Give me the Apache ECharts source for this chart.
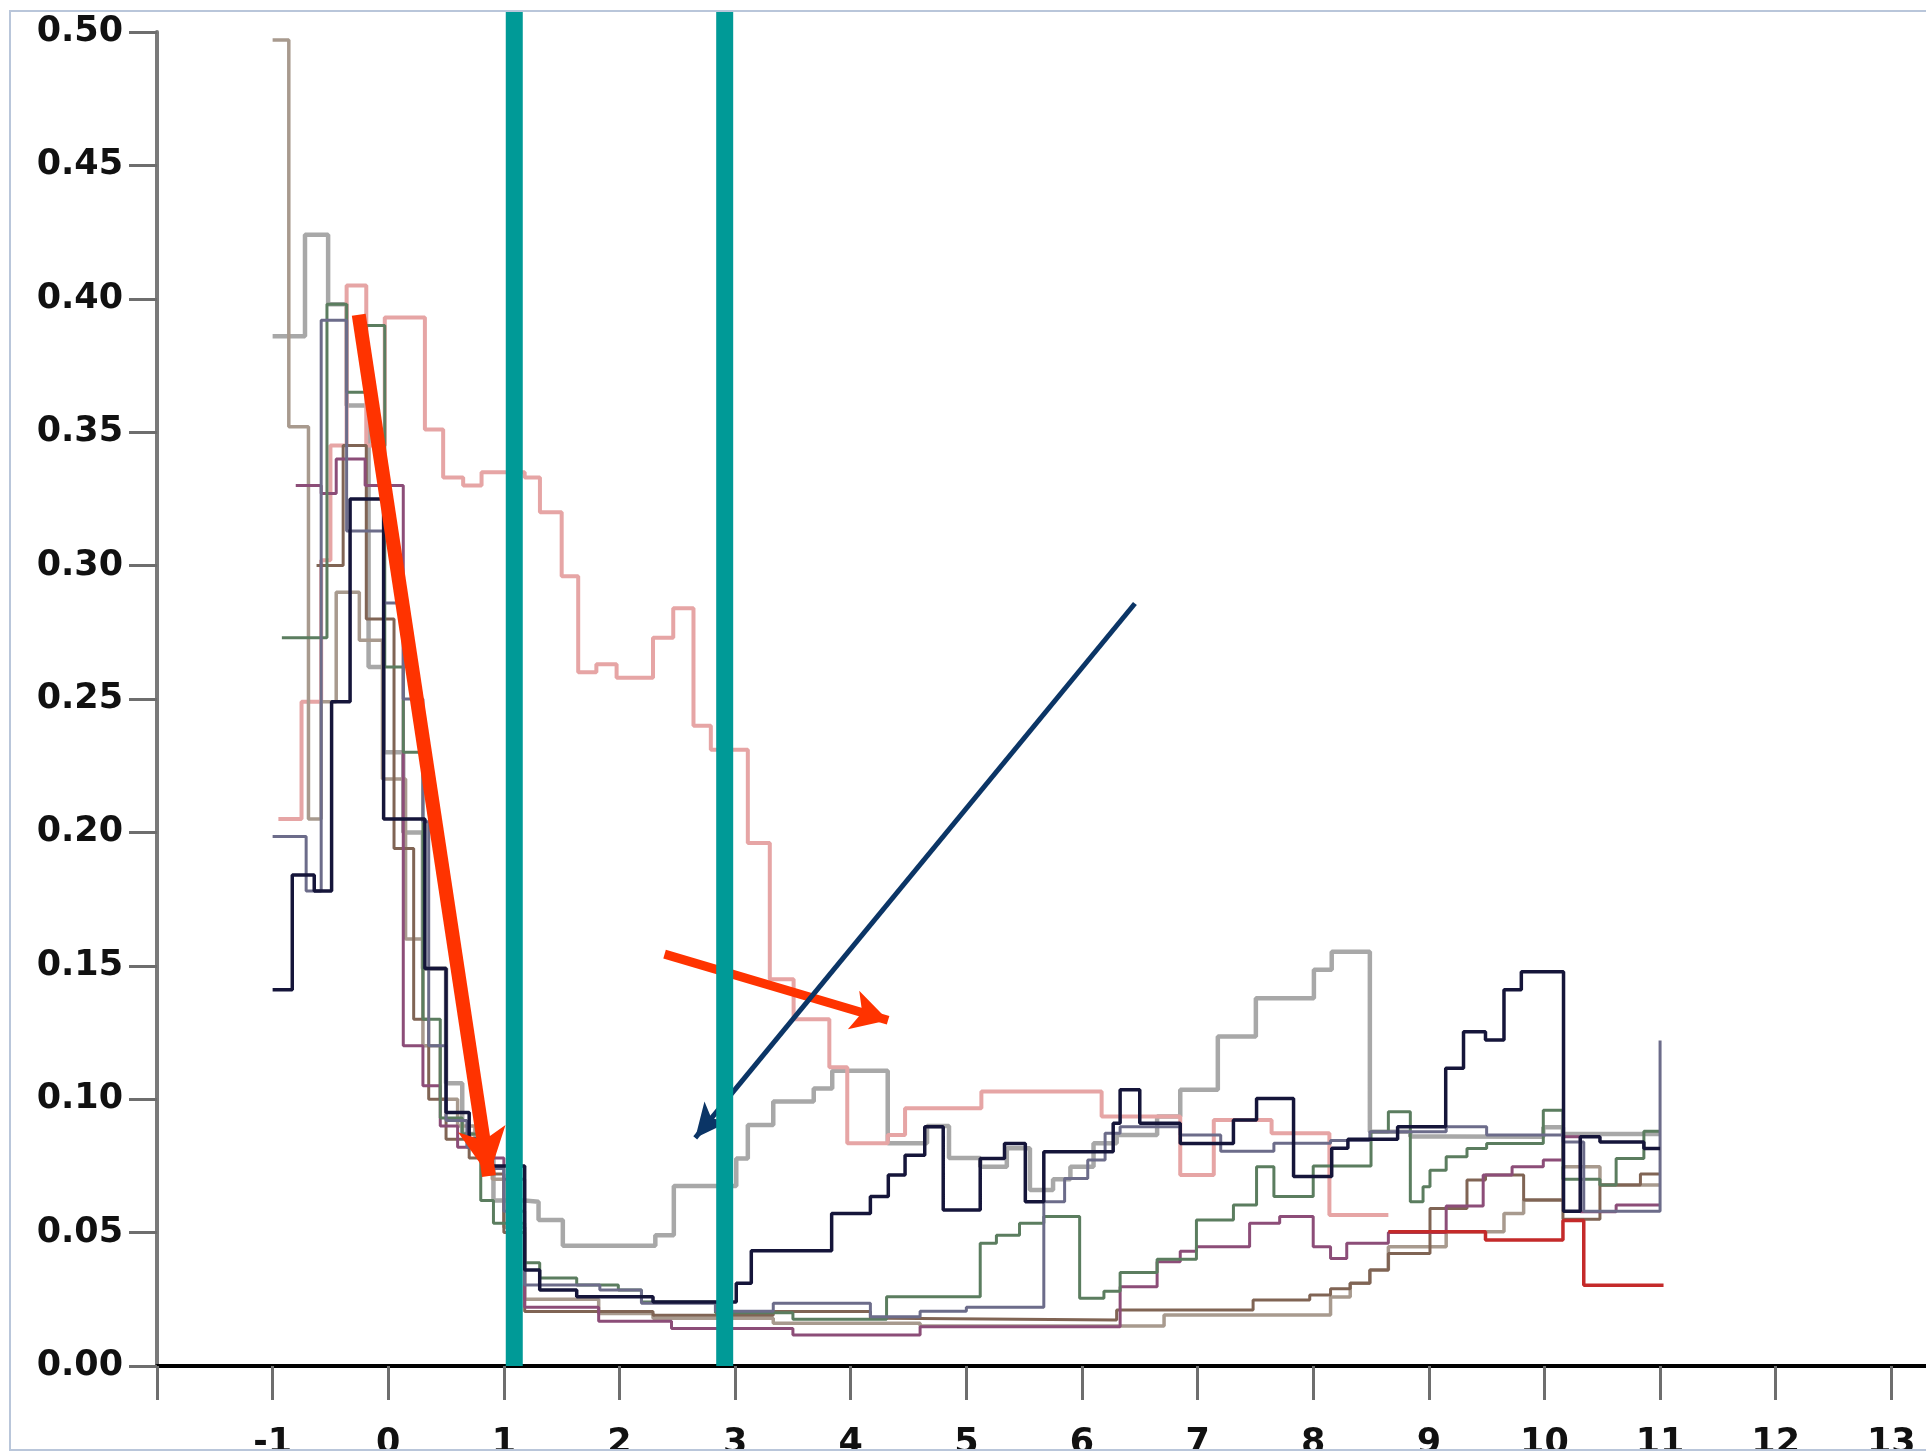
<!DOCTYPE html>
<html>
<head>
<meta charset="utf-8">
<script src="https://cdn.jsdelivr.net/npm/echarts@6/dist/echarts.min.js"></script>
<style>
html, body { margin: 0; padding: 0; background: #ffffff; }
#chart { width: 1926px; height: 1454px; }
</style>
</head>
<body>
<div id="chart"></div>
<script>
// Axis ticks and labels
const xTickValues = [-2, -1, 0, 1, 2, 3, 4, 5, 6, 7, 8, 9, 10, 11, 12, 13];
const xLabelValues = [-1, 0, 1, 2, 3, 4, 5, 6, 7, 8, 9, 10, 11, 12, 13];

// Step series: each point holds its value until the next point's x
const tanSeries = [[-1.0,0.497],[-0.86,0.352],[-0.69,0.205],[-0.58,0.249],[-0.45,0.29],[-0.25,0.272],[-0.05,0.22],[0.15,0.16],[0.3,0.12],[0.45,0.1],[0.6,0.09],[0.75,0.084],[0.9,0.07],[1.0,0.052],[1.18,0.025],[1.82,0.0197],[2.29,0.0179],[3.33,0.016],[4.6,0.015],[6.71,0.0191],[8.15,0.0259],[8.32,0.031],[8.49,0.036],[8.65,0.0447],[9.15,0.0503],[9.65,0.0572],[9.82,0.0622],[10.16,0.0747],[10.48,0.0678],[11.0,0.0678]];

const graySeries = [[-1.0,0.386],[-0.72,0.424],[-0.52,0.398],[-0.36,0.36],[-0.17,0.262],[-0.04,0.23],[0.13,0.2],[0.3,0.149],[0.5,0.106],[0.64,0.087],[0.8,0.08],[0.91,0.062],[1.18,0.0616],[1.30,0.0547],[1.51,0.0451],[2.31,0.049],[2.47,0.0675],[3.01,0.0778],[3.11,0.0903],[3.33,0.0991],[3.68,0.104],[3.84,0.1107],[4.32,0.0835],[4.66,0.09],[4.85,0.078],[5.12,0.0747],[5.35,0.0816],[5.55,0.066],[5.75,0.07],[5.9,0.0747],[6.1,0.0835],[6.3,0.0866],[6.65,0.0935],[6.85,0.1035],[7.175,0.1235],[7.504,0.1378],[8.006,0.1485],[8.16,0.1553],[8.49,0.0878],[8.84,0.086],[9.15,0.0859],[9.99,0.0895],[10.16,0.087],[11.0,0.087]];

const salmonSeries = [[-0.95,0.205],[-0.75,0.249],[-0.58,0.302],[-0.5,0.345],[-0.36,0.405],[-0.19,0.345],[-0.03,0.393],[0.317,0.351],[0.475,0.333],[0.648,0.33],[0.807,0.335],[1.18,0.333],[1.312,0.32],[1.5,0.296],[1.643,0.26],[1.8,0.263],[1.975,0.258],[2.29,0.273],[2.465,0.284],[2.64,0.24],[2.79,0.231],[3.11,0.196],[3.3,0.145],[3.506,0.13],[3.815,0.112],[3.97,0.0835],[4.32,0.0866],[4.47,0.0966],[5.13,0.1029],[6.17,0.0935],[6.85,0.0716],[7.14,0.0922],[7.64,0.0872],[8.14,0.0566],[8.65,0.0566]];

const redSeries = [[8.65,0.0503],[9.49,0.0472],[10.16,0.0545],[10.34,0.0303],[11.03,0.0303]];

const navySeries = [[-1.0,0.141],[-0.83,0.184],[-0.64,0.178],[-0.49,0.249],[-0.33,0.325],[-0.04,0.205],[0.317,0.149],[0.5,0.095],[0.7,0.085],[0.9,0.075],[1.18,0.036],[1.31,0.0285],[1.63,0.026],[2.29,0.024],[3.01,0.031],[3.14,0.0432],[3.835,0.0572],[4.17,0.0635],[4.325,0.0716],[4.47,0.079],[4.64,0.0897],[4.8,0.0585],[5.12,0.0778],[5.33,0.0834],[5.51,0.0616],[5.67,0.0803],[6.27,0.091],[6.33,0.1035],[6.5,0.091],[6.85,0.0834],[7.31,0.0922],[7.51,0.1003],[7.83,0.071],[8.16,0.0816],[8.3,0.085],[8.73,0.0897],[9.146,0.1116],[9.3,0.1253],[9.49,0.1222],[9.65,0.141],[9.8,0.1478],[10.165,0.058],[10.31,0.0859],[10.48,0.084],[10.86,0.0815],[11.0,0.0815]];

const slateSeries = [[-1.0,0.1985],[-0.71,0.178],[-0.58,0.392],[-0.36,0.313],[-0.2,0.313],[-0.04,0.286],[0.13,0.25],[0.3,0.204],[0.35,0.12],[0.5,0.092],[0.68,0.082],[0.85,0.074],[1.0,0.058],[1.18,0.0304],[1.63,0.0304],[1.83,0.0285],[2.19,0.0235],[2.83,0.0205],[3.33,0.0235],[4.17,0.0185],[4.6,0.0205],[5.0,0.022],[5.67,0.0616],[5.85,0.0703],[6.05,0.0772],[6.2,0.0872],[6.33,0.0897],[6.85,0.0866],[7.2,0.0805],[7.66,0.0835],[8.15,0.0845],[8.49,0.0878],[9.15,0.0897],[9.5,0.0866],[10.16,0.084],[10.34,0.058],[11.0,0.122]];

const greenSeries = [[-0.92,0.273],[-0.53,0.398],[-0.36,0.365],[-0.19,0.39],[-0.03,0.262],[0.13,0.23],[0.3,0.13],[0.45,0.093],[0.64,0.087],[0.8,0.062],[0.91,0.0535],[1.18,0.0387],[1.31,0.033],[1.63,0.0304],[1.99,0.0285],[2.19,0.024],[2.83,0.02],[3.5,0.0175],[4.31,0.026],[5.12,0.046],[5.26,0.049],[5.46,0.0535],[5.67,0.056],[5.98,0.0254],[6.19,0.028],[6.33,0.035],[6.65,0.04],[6.99,0.0547],[7.31,0.0603],[7.51,0.0747],[7.66,0.0635],[8.0,0.075],[8.5,0.0878],[8.65,0.0953],[8.84,0.0616],[8.95,0.0672],[9.01,0.0734],[9.15,0.0784],[9.33,0.0815],[9.5,0.0834],[9.99,0.0959],[10.16,0.07],[10.48,0.0678],[10.62,0.0778],[10.86,0.088],[11.0,0.088]];

const mauveSeries = [[-0.8,0.33],[-0.58,0.327],[-0.45,0.34],[-0.2,0.33],[0.13,0.12],[0.3,0.105],[0.45,0.09],[0.6,0.082],[0.8,0.078],[1.0,0.07],[1.18,0.022],[1.82,0.0168],[2.45,0.0141],[3.5,0.0116],[4.6,0.0147],[6.33,0.0297],[6.65,0.0391],[6.85,0.043],[6.99,0.0447],[7.45,0.0535],[7.71,0.056],[8.0,0.0447],[8.15,0.0403],[8.29,0.046],[8.65,0.05],[9.15,0.06],[9.47,0.0716],[9.72,0.0747],[9.99,0.0772],[10.16,0.0859],[10.31,0.0578],[10.62,0.0603],[11.0,0.0603]];

const brownSeries = [[-0.62,0.3],[-0.39,0.345],[-0.19,0.28],[0.05,0.194],[0.22,0.13],[0.35,0.1],[0.5,0.085],[0.7,0.078],[0.85,0.072],[1.0,0.05],[1.18,0.0204],[2.29,0.019],[3.33,0.0204],[4.17,0.0179],[4.31,0.0172],[6.3,0.021],[7.48,0.0247],[7.97,0.0266],[8.15,0.029],[8.32,0.031],[8.49,0.036],[8.65,0.0422],[9.01,0.059],[9.33,0.0697],[9.49,0.0716],[9.82,0.0622],[10.16,0.055],[10.48,0.0678],[10.83,0.072],[11.0,0.072]];

// Vertical marker positions and annotation arrows (data coordinates)
const markerX = [1.09, 2.91];
const markerTop = 0.508;
const arrowRedLong = [[-0.255, 0.394], [0.871, 0.0712]];
const arrowRedShort = [[2.39, 0.1544], [4.323, 0.1296]];
const arrowNavy = [[6.458, 0.2858], [2.655, 0.0855]];

const stepDefs = [
  { name: 'gray', data: graySeries, color: '#a8a8a8', width: 4.5 },
  { name: 'salmon', data: salmonSeries, color: '#e6a5a5', width: 4 },
  { name: 'tan', data: tanSeries, color: '#a89a8e', width: 3.5 },
  { name: 'brown', data: brownSeries, color: '#806454', width: 3 },
  { name: 'mauve', data: mauveSeries, color: '#8c4d78', width: 3 },
  { name: 'green', data: greenSeries, color: '#5b7d5f', width: 3 },
  { name: 'slate', data: slateSeries, color: '#6c6c8a', width: 3 },
  { name: 'red', data: redSeries, color: '#c42a2a', width: 3.5 },
  { name: 'navy', data: navySeries, color: '#15153a', width: 3.5 }
];

const series = stepDefs.map(d => ({
  name: d.name,
  type: 'line',
  step: 'end',
  data: d.data,
  showSymbol: false,
  symbol: 'none',
  silent: true,
  lineStyle: { color: d.color, width: d.width },
  z: 3
}));

markerX.forEach((x, i) => {
  series.push({
    name: 'marker' + i,
    type: 'line',
    data: [[x, 0], [x, markerTop]],
    showSymbol: false,
    symbol: 'none',
    clip: false,
    silent: true,
    lineStyle: { color: '#009a97', width: 17 },
    z: 6
  });
});

function arrow(pair, color, width, head) {
  return {
    type: 'line',
    data: [],
    silent: true,
    z: 8,
    markLine: {
      silent: true,
      symbol: ['none', 'arrow'],
      symbolSize: head,
      label: { show: false },
      animation: false,
      lineStyle: { color: color, width: width, type: 'solid' },
      emphasis: { disabled: true },
      data: [[{ coord: pair[0] }, { coord: pair[1] }]]
    }
  };
}
series.push(arrow(arrowRedLong, '#ff3300', 14, [36, 48]));
series.push(arrow(arrowRedShort, '#ff3300', 9, [30, 36]));
series.push(arrow(arrowNavy, '#0b3566', 5, [24, 34]));

const labelFont = { fontFamily: 'DejaVu Sans', fontWeight: 'bold', fontSize: 35, color: '#111111' };

const option = {
  animation: false,
  backgroundColor: '#ffffff',
  grid: { left: 157, right: 0, top: 32, bottom: 88, containLabel: false, outerBoundsMode: 'none' },
  xAxis: {
    type: 'value',
    min: -2,
    max: 13.3,
    interval: 1,
    splitLine: { show: false },
    axisLine: { show: true, onZero: false, lineStyle: { color: '#000000', width: 4 } },
    axisTick: { show: true, inside: false, length: 34, customValues: xTickValues, lineStyle: { color: '#6e6e6e', width: 3 } },
    axisLabel: Object.assign({ margin: 60, customValues: xLabelValues }, labelFont)
  },
  yAxis: {
    type: 'value',
    min: 0,
    max: 0.5,
    interval: 0.05,
    splitLine: { show: false },
    axisLine: { show: true, onZero: false, lineStyle: { color: '#7a7a7a', width: 4 } },
    axisTick: { show: true, inside: false, length: 28, lineStyle: { color: '#6e6e6e', width: 3 } },
    axisLabel: Object.assign({ margin: 34, formatter: v => v.toFixed(2) }, labelFont)
  },
  graphic: [
    { type: 'rect', z: 200, silent: true, shape: { x: 0, y: 1451, width: 1926, height: 4 }, style: { fill: '#ffffff' } },
    { type: 'rect', z: 201, silent: true, shape: { x: 10, y: 11, width: 1940, height: 1439 }, style: { fill: null, stroke: '#b9c6da', lineWidth: 2 } }
  ],
  series: series
};

const chart = echarts.init(document.getElementById('chart'), null, { renderer: 'canvas' });
chart.setOption(option);
</script>
</body>
</html>
